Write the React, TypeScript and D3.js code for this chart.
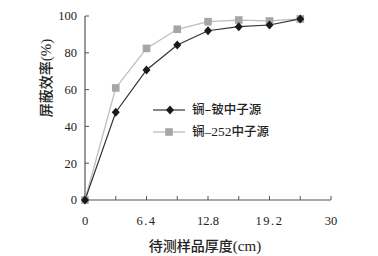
import React from "react";
import * as d3 from "d3";

const xValues = [0, 3.2, 6.4, 9.6, 12.8, 16, 19.2, 22.4];
const cfBe = [0, 47.7, 70.7, 84.2, 92, 94.2, 95.1, 98.4];
const cf252 = [0, 60.9, 82.4, 92.8, 96.9, 97.8, 97.3, 98.4];
const xTickValues = [0, 3.2, 6.4, 9.6, 12.8, 16, 19.2, 22.4, 25.6];
const xTickLabels = ["0", "", "6.4", "", "12.8", "", "19.2", "", "30"];
const yTickValues = [0, 20, 40, 60, 80, 100];

export default function App() {
  const W = 378, H = 256;
  const x = d3.scaleLinear().domain([0, 25.6]).range([85, 331]);
  const y = d3.scaleLinear().domain([0, 100]).range([200, 16]);
  const line = d3.line<number>().x((_, i) => x(xValues[i])).y((d) => y(d));
  const numFont = "'Liberation Serif', 'DejaVu Serif', serif";
  const cjkFont = "'Noto Sans CJK SC', sans-serif";
  const black = "#1a1a1a";
  const gray = "#a6a6a6";
  const grayLine = "#bdbdbd";
  const diamond = (cx: number, cy: number, k: string) => (
    <path key={k} d={`M${cx},${cy - 4.5}L${cx + 4},${cy}L${cx},${cy + 4.5}L${cx - 4},${cy}Z`} fill={black} />
  );
  const square = (cx: number, cy: number, k: string) => (
    <rect key={k} x={cx - 3.8} y={cy - 3.8} width={7.6} height={7.6} fill={gray} />
  );
  return (
    <svg width={W} height={H} style={{ position: "absolute", left: 0, top: 0, background: "#fff" }}>
      <rect width={W} height={H} fill="#fff" />
      <line x1={x(0)} x2={x(0)} y1={y(100)} y2={y(0)} stroke="#555" strokeWidth={1.2} />
      <line x1={x(0)} x2={x(25.6)} y1={y(0)} y2={y(0)} stroke="#555" strokeWidth={1.2} />
      {yTickValues.map((v) => (
        <g key={"y" + v}>
          <line x1={x(0)} x2={x(0) + 4} y1={y(v)} y2={y(v)} stroke="#555" strokeWidth={1} />
          <text x={x(0) - 8} y={y(v)} dy="0.35em" textAnchor="end" fontFamily={numFont} fontSize={12.5} fill="#222">{v}</text>
        </g>
      ))}
      {xTickValues.map((v, i) => (
        <g key={"x" + i}>
          <line x1={x(v)} x2={x(v)} y1={y(0)} y2={y(0) - 4} stroke="#555" strokeWidth={1} />
          <text x={x(v)} y={y(0) + 25} textAnchor="middle" fontFamily={numFont} fontSize={12.5} fill="#222" letterSpacing={i === 2 || i === 6 ? 1.5 : 0}>{xTickLabels[i]}</text>
        </g>
      ))}
      <path d={line(cf252) || ""} fill="none" stroke={grayLine} strokeWidth={1.3} />
      <path d={line(cfBe) || ""} fill="none" stroke="#333" strokeWidth={1.2} />
      {cf252.map((d, i) => square(x(xValues[i]), y(d), "s" + i))}
      {cfBe.map((d, i) => diamond(x(xValues[i]), y(d), "d" + i))}
      <line x1={153} x2={185} y1={110} y2={110} stroke="#333" strokeWidth={1.2} />
      {diamond(170, 110, "ld")}
      <text x={192} y={110} dy="0.35em" fontFamily={cjkFont} fontSize={12.5} fontWeight={500} fill="#222">锎–铍中子源</text>
      <line x1={153} x2={185} y1={132} y2={132} stroke={grayLine} strokeWidth={1.3} />
      {square(169, 132, "ls")}
      <text x={192} y={132} dy="0.35em" fontFamily={cjkFont} fontSize={12.5} fontWeight={500} fill="#222">锎<tspan fontFamily={numFont} fontSize={13.5} fontWeight={400}>–252</tspan>中子源</text>
      <text transform={`translate(46,78) rotate(-90)`} textAnchor="middle" dy="0.35em" fontFamily={cjkFont} fontSize={14} fontWeight={500} fill="#222">屏蔽效率<tspan fontFamily={numFont} fontSize={15} fontWeight={400}>(%)</tspan></text>
      <text x={205} y={246} dy="0.35em" textAnchor="middle" fontFamily={cjkFont} fontSize={14} fontWeight={500} fill="#222">待测样品厚度<tspan fontFamily={numFont} fontSize={15} fontWeight={400}>(cm)</tspan></text>
    </svg>
  );
}
